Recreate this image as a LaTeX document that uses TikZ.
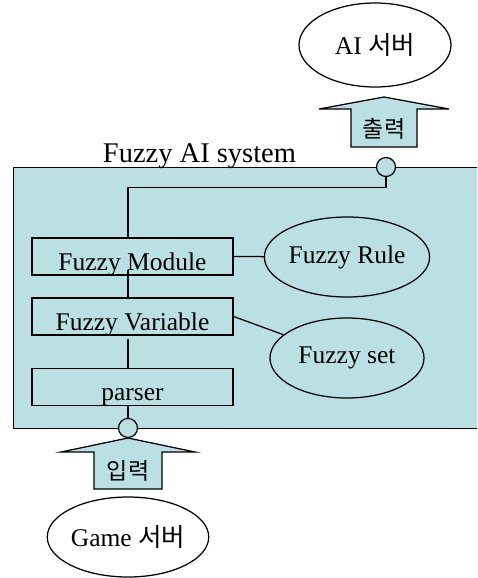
\documentclass[tikz,border=0pt]{standalone}
\usepackage{fontspec}
\setmainfont{Liberation Serif}
\newfontfamily\krfont{Noto Sans CJK KR}
\usetikzlibrary{shapes.geometric}
\definecolor{sysfill}{RGB}{187,224,227}

\begin{document}
\begin{tikzpicture}[x=1pt, y=-1pt, line width=1.25pt,
    box/.style={rectangle, draw=black, fill=sysfill, minimum width=201pt, inner sep=0pt,
        text height=32pt, text depth=5pt, font=\fontsize{25.5}{28}\selectfont},
    blob/.style={ellipse, draw=black, minimum width=154pt, minimum height=80pt, inner sep=0pt,
        font=\fontsize{25.5}{28}\selectfont},
    port/.style={circle, draw=black, fill=sysfill, minimum size=19pt, inner sep=0pt},
    ioarrow/.style={draw=black, fill=sysfill},
    iolabel/.style={font=\krfont\fontsize{23}{26}\selectfont}]
    \clip (0,0) rectangle (477,578);

    % the system frame and its title
    \node[rectangle, draw=black, fill=sysfill, anchor=north west, minimum width=480pt, minimum height=261pt] (system) at (13,167) {};
    \node[anchor=base, font=\fontsize{28.5}{32}\selectfont] (title) at (199.5,162) {Fuzzy AI system};

    % inner blocks
    \node[box] (module) at (132.5,256.5) {Fuzzy Module};
    \node[box] (variable) at (132.5,316.5) {Fuzzy Variable};
    \node[box] (parser) at (132.5,387) {parser};

    \node[blob] (rule) at (347,257) {Fuzzy Rule};
    \node[blob] (fset) at (347,358) {Fuzzy set};

    % servers outside
    \node[blob, minimum width=152pt, minimum height=84pt] (aiserver) at (375,45) {AI {\krfont 서버}};
    \node[blob] (gameserver) at (128,537) {Game {\krfont 서버}};

    % ports on the frame
    \node[port] (outport) at (386,167) {};
    \node[port] (inport) at (128,428) {};

    \draw[-] (outport.south) -- ++(0,10.5) -| ([xshift=-4.5pt]module.north);
    \draw[-] ([xshift=-4.5pt]module.base) -- ([xshift=-4.5pt]variable.north);
    \draw[-] ([xshift=-4.5pt,yshift=-3pt]variable.south) -- ([xshift=-4.5pt]parser.north);
    \draw[-] ([xshift=-4.5pt]parser.south) -- (inport.north);
    \draw[-] (module.east) -- (rule);
    \draw[-] (variable.east) -- (fset);

    % output and input arrows
    \coordinate (outtip) at (384,97);
    \draw[ioarrow] (outtip) -- ++(65,12) -- ++(-32,0) -- ++(0,38) -- ++(-66,0) -- ++(0,-38) -- ++(-32,0) -- cycle;
    \node[iolabel] (outlabel) at (384,129) {출력};

    \coordinate (intip) at (128,438);
    \draw[ioarrow] (intip) -- ++(67,14) -- ++(-33,0) -- ++(0,37) -- ++(-68,0) -- ++(0,-37) -- ++(-33,0) -- cycle;
    \node[iolabel] (inlabel) at (128,471) {입력};
\end{tikzpicture}
\end{document}
